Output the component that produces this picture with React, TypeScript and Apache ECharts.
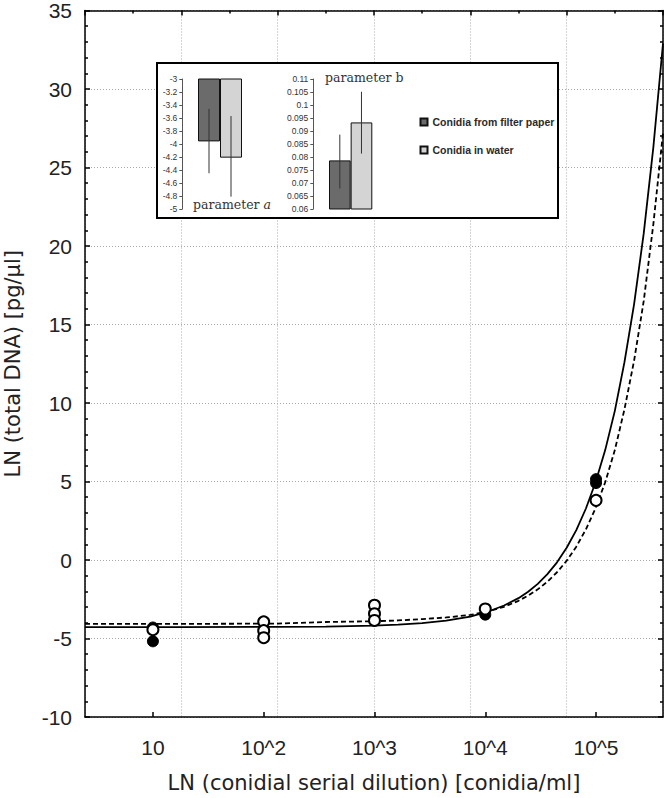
import React, { useEffect, useRef } from 'react';
import * as echarts from 'echarts';

// ---- main chart data ----
const dilutionLabels = ['10', '10^2', '10^3', '10^4', '10^5'];
const dilutionX = [2.41, 4.71, 7.01, 9.31, 11.61];

// measured points (index into dilution, LN total DNA)
const filterPaperIdx = [0, 0, 3, 4, 4];
const filterPaperY = [-5.18, -4.3, -3.48, 4.9, 5.15];
const waterIdx = [0, 1, 1, 1, 2, 2, 2, 3, 4];
const waterY = [-4.44, -3.94, -4.5, -4.95, -2.88, -3.42, -3.85, -3.12, 3.8];

// fitted curves
const curveX = [1, 3, 5, 6, 7, 7.5, 8, 8.5, 9, 9.4, 9.7, 10, 10.2, 10.4, 10.6, 10.8, 11, 11.2, 11.4, 11.6, 11.8, 12, 12.2, 12.4, 12.6, 12.8, 13];
const filterPaperFit = [-4.27, -4.27, -4.26, -4.24, -4.18, -4.12, -4.02, -3.86, -3.6, -3.25, -2.9, -2.43, -2.02, -1.52, -0.9, -0.15, 0.78, 1.9, 3.28, 4.95, 7.0, 9.5, 12.6, 16.3, 20.8, 26.3, 32.9];
const waterFit = [-4.07, -4.07, -4.05, -3.95, -3.9, -3.85, -3.76, -3.66, -3.5, -3.25, -2.98, -2.6, -2.27, -1.87, -1.38, -0.78, -0.05, 0.85, 1.95, 3.3, 4.95, 7.0, 9.6, 12.7, 16.5, 21.4, 27.2];

// ---- inset data ----
const groups = ['Conidia from filter paper', 'Conidia in water'];
const paramA = [-3.96, -4.21];
const paramALow = [-4.45, -4.81];
const paramAHigh = [-3.46, -3.57];
const paramB = [0.0787, 0.0933];
const paramBLow = [0.0679, 0.0813];
const paramBHigh = [0.0886, 0.1051];

const barColors = ['#6b6b6b', '#d4d4d4'];

export default function App() {
  const ref = useRef<HTMLDivElement>(null);
  useEffect(() => {
    document.body.style.margin = '0';
    const chart = echarts.init(ref.current!, null, { renderer: 'svg' });
    const mainFont = 'Liberation Sans, Arial, sans-serif';
    const titleFont = 'DejaVu Sans, sans-serif';
    const gridLine = { show: true, lineStyle: { color: '#a8a8a8', type: [1, 2], width: 1 } };
    const blackLine = { show: true, onZero: false, lineStyle: { color: '#000', width: 1.5 } };
    const insetAxisLine = { show: true, onZero: false, lineStyle: { color: '#555', width: 1 } };

    const labelOf = (v: number) => {
      const i = dilutionX.findIndex((x) => Math.abs(x - v) < 1e-6);
      return i >= 0 ? dilutionLabels[i] : '';
    };

    const errSeries = (name: string, xi: number, yi: number, low: number[], high: number[]) => ({
      name,
      type: 'custom',
      xAxisIndex: xi,
      yAxisIndex: yi,
      z: 6,
      data: groups.map((_, i) => [i, low[i], high[i]]),
      renderItem: (_p: any, api: any) => {
        const p1 = api.coord([api.value(0), api.value(1)]);
        const p2 = api.coord([api.value(0), api.value(2)]);
        return {
          type: 'line',
          shape: { x1: p1[0], y1: p1[1], x2: p2[0], y2: p2[1] },
          style: { stroke: '#333', lineWidth: 1 },
        };
      },
    });

    const barSeries = (vals: number[], xi: number, yi: number, stack: string) =>
      groups.map((g, i) => ({
        name: g,
        type: 'bar',
        xAxisIndex: xi,
        yAxisIndex: yi,
        stack,
        barWidth: '100%',
        clip: true,
        z: 4,
        data: groups.map((_, j) => (j === i ? vals[j] : '-')),
        itemStyle: { color: barColors[i], borderColor: '#111', borderWidth: 1, opacity: 1 },
      }));

    const option: any = {
      animation: false,
      backgroundColor: '#fff',
      grid: [
        { left: 85, top: 10.5, right: 3, bottom: 81, outerBoundsMode: 'none' },
        { left: 198, top: 79, width: 44, height: 130, outerBoundsMode: 'none' },
        { left: 329, top: 79, width: 43.3, height: 130, outerBoundsMode: 'none' },
      ],
      xAxis: [
        {
          gridIndex: 0, type: 'value', min: 1, max: 13, interval: 2, position: 'bottom',
          axisLine: blackLine, axisTick: { show: false }, axisLabel: { show: false }, splitLine: gridLine,
        },
        {
          gridIndex: 0, type: 'value', min: 1, max: 13, position: 'bottom',
          axisLine: { show: false, onZero: false },
          axisTick: { show: true, inside: true, length: 5, customValues: dilutionX, lineStyle: { color: '#000', width: 1.5 } },
          axisLabel: { show: true, customValues: dilutionX, formatter: labelOf, fontSize: 21, fontFamily: mainFont, color: '#222', margin: 20 },
          splitLine: { show: false },
          name: 'LN (conidial serial dilution) [conidia/ml]',
          nameLocation: 'middle', nameGap: 55,
          nameTextStyle: { fontFamily: titleFont, fontSize: 21, color: '#222' },
        },
        {
          gridIndex: 0, type: 'value', min: 1, max: 13, interval: 2, position: 'top',
          axisLine: blackLine,
          axisTick: { show: true, inside: true, length: 5, lineStyle: { color: '#000', width: 1.5 } },
          minorTick: { show: true, splitNumber: 2, length: 3, lineStyle: { color: '#000', width: 1.5 } },
          axisLabel: { show: false }, splitLine: { show: false },
        },
        { gridIndex: 1, type: 'category', data: groups, show: false },
        { gridIndex: 2, type: 'category', data: groups, show: false },
      ],
      yAxis: [
        {
          gridIndex: 0, type: 'value', min: -10, max: 35, interval: 5, position: 'left',
          axisLine: blackLine,
          axisTick: { show: true, inside: true, length: 5, lineStyle: { color: '#000', width: 1.5 } },
          minorTick: { show: true, splitNumber: 5, length: 3, lineStyle: { color: '#000', width: 1.5 } },
          axisLabel: { fontSize: 21, fontFamily: mainFont, color: '#222', margin: 13 },
          splitLine: gridLine,
          name: 'LN (total DNA) [pg/µl]', nameLocation: 'middle', nameGap: 62, nameRotate: 90,
          nameTextStyle: { fontFamily: titleFont, fontSize: 21, color: '#222' },
        },
        {
          gridIndex: 0, type: 'value', min: -10, max: 35, interval: 5, position: 'right',
          axisLine: blackLine,
          axisTick: { show: true, inside: true, length: 5, lineStyle: { color: '#000', width: 1.5 } },
          minorTick: { show: true, splitNumber: 5, length: 3, lineStyle: { color: '#000', width: 1.5 } },
          axisLabel: { show: false }, splitLine: { show: false },
        },
        {
          gridIndex: 1, type: 'value', min: -5, max: -3, interval: 0.2, offset: 15.7, z: 5,
          axisLine: insetAxisLine,
          axisTick: { show: true, length: 3, lineStyle: { color: '#555' } },
          axisLabel: { fontSize: 8.5, fontFamily: mainFont, color: '#333', margin: 5 },
          splitLine: { show: false },
        },
        {
          gridIndex: 2, type: 'value', min: 0.06, max: 0.11, interval: 0.005, offset: 15.7, z: 5,
          axisLine: insetAxisLine,
          axisTick: { show: true, length: 3, lineStyle: { color: '#555' } },
          axisLabel: { fontSize: 8.5, fontFamily: mainFont, color: '#333', margin: 5 },
          splitLine: { show: false },
        },
      ],
      legend: {
        data: groups,
        orient: 'vertical',
        left: 414.5,
        top: 111.5,
        itemWidth: 7,
        itemHeight: 7,
        itemGap: 17,
        icon: 'rect',
        selectedMode: false,
        z: 7,
        textStyle: { fontSize: 10.5, fontWeight: 'bold', fontFamily: mainFont, color: '#2a2a2a' },
      },
      graphic: {
        elements: [
          {
            type: 'rect', z: 1,
            shape: { x: 157, y: 63, width: 401, height: 155 },
            style: { fill: '#fff', stroke: '#000', lineWidth: 2 },
          },
          {
            type: 'text', z: 7, x: 193, y: 204,
            style: {
              text: '{n|parameter }{i|a}',
              verticalAlign: 'middle',
              rich: {
                n: { fontFamily: 'DejaVu Serif, serif', fontSize: 12.5, fill: '#333' },
                i: { fontFamily: 'DejaVu Serif, serif', fontSize: 12.5, fontStyle: 'italic', fill: '#333' },
              },
            },
          },
          {
            type: 'text', z: 7, x: 325, y: 77,
            style: {
              text: 'parameter b',
              verticalAlign: 'middle',
              fontFamily: 'DejaVu Serif, serif', fontSize: 12.5, fill: '#333',
            },
          },
        ],
      },
      series: [
        {
          name: 'filter paper fit', type: 'line', xAxisIndex: 0, yAxisIndex: 0,
          data: curveX.map((x, i) => [x, filterPaperFit[i]]),
          showSymbol: false, symbol: 'none', z: 3,
          lineStyle: { color: '#000', width: 1.8, opacity: 1 },
        },
        {
          name: 'water fit', type: 'line', xAxisIndex: 0, yAxisIndex: 0,
          data: curveX.map((x, i) => [x, waterFit[i]]),
          showSymbol: false, symbol: 'none', z: 3,
          lineStyle: { color: '#000', width: 1.8, type: [5, 3], opacity: 1 },
        },
        {
          name: 'filter paper data', type: 'scatter', xAxisIndex: 0, yAxisIndex: 0, z: 4,
          symbol: 'circle', symbolSize: 11,
          data: filterPaperIdx.map((d, i) => [dilutionX[d], filterPaperY[i]]),
          itemStyle: { color: '#000', borderColor: '#000', borderWidth: 1, opacity: 1 },
        },
        {
          name: 'water data', type: 'scatter', xAxisIndex: 0, yAxisIndex: 0, z: 5,
          symbol: 'circle', symbolSize: 11,
          data: waterIdx.map((d, i) => [dilutionX[d], waterY[i]]),
          itemStyle: { color: '#fff', borderColor: '#000', borderWidth: 2, opacity: 1 },
        },
        ...barSeries(paramA, 3, 2, 'a'),
        ...barSeries(paramB, 4, 3, 'b'),
        errSeries('a error', 3, 2, paramALow, paramAHigh),
        errSeries('b error', 4, 3, paramBLow, paramBHigh),
      ],
    };
    chart.setOption(option);
    return () => chart.dispose();
  }, []);
  return <div ref={ref} style={{ width: 666, height: 798 }} />;
}
